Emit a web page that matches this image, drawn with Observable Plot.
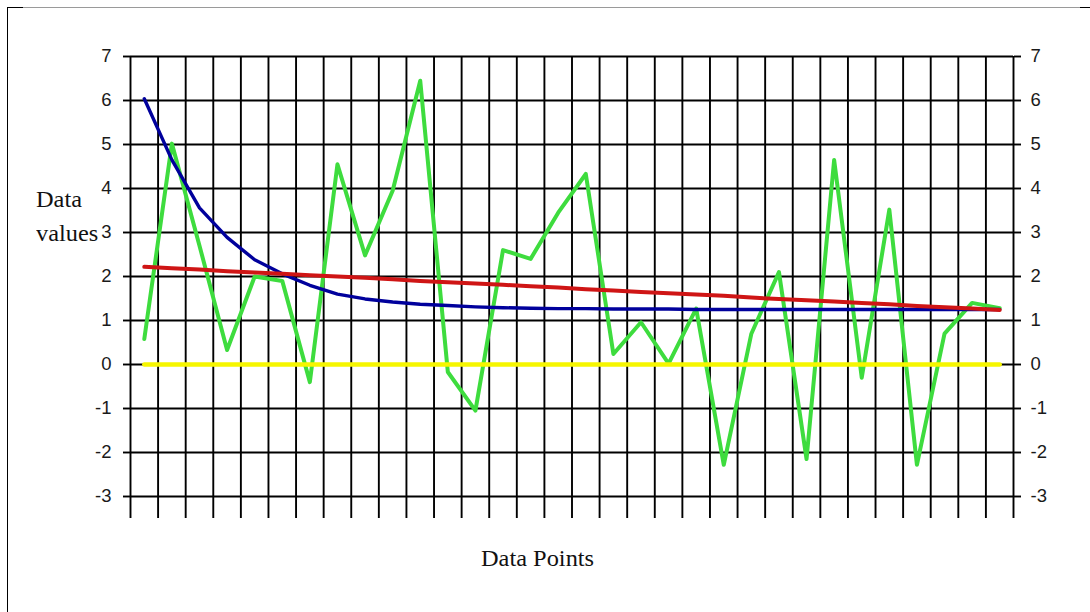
<!DOCTYPE html>
<html><head><meta charset="utf-8">
<script src="https://cdn.jsdelivr.net/npm/d3@7"></script>
<script src="https://cdn.jsdelivr.net/npm/@observablehq/plot@0.6"></script>
<style>
html,body{margin:0;padding:0;background:#fff;}
#wrap{position:relative;width:1090px;height:612px;overflow:hidden;background:#fff;}
#wrap svg{position:absolute;left:0;top:0;}
.lbl{position:absolute;font-family:"Liberation Serif","Times New Roman",serif;font-size:23px;color:#111;white-space:nowrap;transform-origin:0 0;transform:scaleX(1.06);line-height:1;}
.edge{position:absolute;}
</style></head><body>
<div id="wrap">
  <div class="edge" style="left:7px;top:7px;width:1083px;height:1px;background:#9a9a9a"></div>
  <div class="edge" style="left:7px;top:7px;width:16px;height:1px;background:#000"></div>
  <div class="edge" style="left:1080px;top:7px;width:10px;height:1px;background:#000"></div>
  <div class="edge" style="left:7px;top:7px;width:1px;height:605px;background:#000"></div>
</div>
<script>
// Categories (data points 1..32)
const points = [1,2,3,4,5,6,7,8,9,10,11,12,13,14,15,16,17,18,19,20,21,22,23,24,25,26,27,28,29,30,31,32];
// Green: raw data
const greenValues = [0.58, 5.02, 2.7, 0.33, 2.0, 1.9, -0.4, 4.55, 2.48, 3.95, 6.45, -0.17, -1.05, 2.6, 2.4, 3.45,
                     4.33, 0.24, 0.96, 0.02, 1.27, -2.28, 0.7, 2.1, -2.15, 4.65, -0.3, 3.52, -2.28, 0.7, 1.4, 1.28];
// Blue: decaying curve
const blueValues = [6.04, 4.65, 3.56, 2.89, 2.38, 2.06, 1.8, 1.6, 1.49, 1.42, 1.37, 1.34, 1.31, 1.29, 1.28, 1.27,
                    1.27, 1.26, 1.26, 1.26, 1.25, 1.25, 1.25, 1.25, 1.25, 1.25, 1.25, 1.25, 1.25, 1.25, 1.25, 1.25];
// Red: slowly declining line
const redValues = [2.22, 2.19, 2.16, 2.12, 2.09, 2.06, 2.03, 2.00, 1.97, 1.94, 1.90, 1.87, 1.84, 1.81, 1.78, 1.75,
                   1.71, 1.68, 1.65, 1.62, 1.59, 1.56, 1.52, 1.49, 1.46, 1.43, 1.40, 1.37, 1.33, 1.30, 1.27, 1.24];
// Yellow: zero line
const yellowValues = [0,0,0,0,0,0,0,0,0,0,0,0,0,0,0,0,0,0,0,0,0,0,0,0,0,0,0,0,0,0,0,0];
// Axis ticks
const yTicks = [-3,-2,-1,0,1,2,3,4,5,6,7];
const yTickLabels = ["-3","-2","-1","0","1","2","3","4","5","6","7"];

const toRows = vals => points.map((p, i) => ({p, v: vals[i]}));
const boundaries = points.map(p => p - 0.5).concat([points[points.length - 1] + 0.5]);

const axisFont = {fontSize: 18.5, fontFamily: "'Liberation Sans', Arial, sans-serif"};
const gridW = 1.9;

const chart = Plot.plot({
  width: 1090,
  height: 612,
  marginLeft: 130,
  marginRight: 77,
  marginTop: 56,
  marginBottom: 116,
  style: {background: "transparent", color: "#111", overflow: "visible"},
  x: {type: "linear", domain: [0.5, 32.5], axis: null},
  y: {type: "linear", domain: [-3, 7], axis: null},
  marks: [
    Plot.ruleY(yTicks, {stroke: "#000", strokeWidth: gridW}),
    Plot.ruleX(boundaries, {y1: 7, y2: -3.5, stroke: "#000", strokeWidth: gridW}),
    Plot.axisY({anchor: "left", label: null, ticks: yTicks, tickFormat: (d, i) => yTickLabels[i], tickSize: 7, tickPadding: 12,
      stroke: "#000", strokeWidth: gridW, strokeOpacity: 1, ...axisFont, fill: "#1a1a1a"}),
    Plot.axisY({anchor: "right", label: null, ticks: yTicks, tickFormat: (d, i) => yTickLabels[i], tickSize: 7, tickPadding: 10,
      stroke: "#000", strokeWidth: gridW, strokeOpacity: 1, ...axisFont, fill: "#1a1a1a"}),
    Plot.line(toRows(greenValues), {x: "p", y: "v", stroke: "#3edc3e", strokeWidth: 4}),
    Plot.line(toRows(blueValues), {x: "p", y: "v", stroke: "#00009c", strokeWidth: 3.4}),
    Plot.line(toRows(redValues), {x: "p", y: "v", stroke: "#cf1515", strokeWidth: 4}),
    Plot.line(toRows(yellowValues), {x: "p", y: "v", stroke: "#f6f600", strokeWidth: 4.5})
  ]
});

const wrap = document.getElementById("wrap");
wrap.insertBefore(chart, wrap.firstChild);

function addLabel(text, left, top) {
  const d = document.createElement("div");
  d.className = "lbl";
  d.textContent = text;
  d.style.left = left + "px";
  d.style.top = top + "px";
  wrap.appendChild(d);
}
addLabel("Data", 36, 188);
addLabel("values", 36, 222);
addLabel("Data Points", 481, 547);
</script>
</body></html>
